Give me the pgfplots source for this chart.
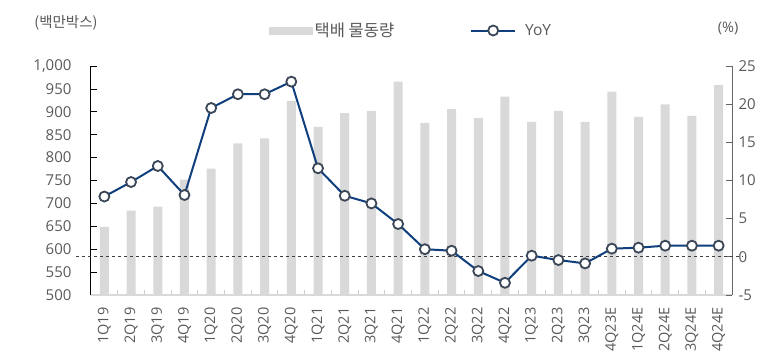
\documentclass[border=0pt]{standalone}
\usepackage{pgfplots}
\pgfplotsset{compat=1.18}
\usepackage{fontspec}
\setmainfont{Open Sans}
\newfontfamily\kr{Noto Sans CJK KR}
\definecolor{barc}{HTML}{D9D9D9}
\definecolor{linec}{HTML}{0F3F7C}
\definecolor{mk}{HTML}{3B4656}
\definecolor{txt}{HTML}{595959}
\begin{document}
\begin{tikzpicture}
\path[use as bounding box] (-91pt,-65pt) rectangle (693pt,295pt);
\begin{axis}[at={(0,0)}, anchor=south west, scale only axis, width=641pt, height=229pt,
  xmin=-0.5, xmax=23.5, ymin=500, ymax=1000,
  axis x line*=bottom, axis y line*=left,
  xtick={0,...,23},
  xticklabels={1Q19,2Q19,3Q19,4Q19,1Q20,2Q20,3Q20,4Q20,1Q21,2Q21,3Q21,4Q21,1Q22,2Q22,3Q22,4Q22,1Q23,2Q23,3Q23,4Q23E,1Q24E,2Q24E,3Q24E,4Q24E},
  x tick label style={yshift=-9pt, rotate=90, anchor=east, font=\fontsize{14.5}{16}\selectfont, text=txt},
  major x tick style={draw=none},
  minor xtick={-0.5,0.5,...,23.5}, minor x tick style={black!20, line width=1pt}, minor tick length=5pt,
  ytick={500,550,...,1000},
  y tick label style={xshift=-16pt, font=\fontsize{15}{16}\selectfont, text=txt},
  /pgf/number format/assume math mode=true,
  /pgf/number format/.cd, 1000 sep={,}, /pgfplots/.cd,
  major tick length=6pt, tick align=inside,
  y tick style={black, line width=0.8pt},
  x axis line style={black!15, line width=1.6pt},
  y axis line style={black, line width=1pt},
  clip=false,
]
\addplot[ybar, bar width=9pt, fill=barc, draw=none] coordinates {
(0,649) (1,684) (2,693) (3,752) (4,776) (5,831) (6,842) (7,924) (8,867) (9,897) (10,902) (11,966)
(12,876) (13,906) (14,887) (15,933) (16,878) (17,902) (18,878) (19,944) (20,889) (21,916) (22,891) (23,958)};
\node[font=\kr\fontsize{14.5}{16}\selectfont, text=txt] at (rel axis cs:-0.039,1.19) {(백만박스)};
\end{axis}
\begin{axis}[at={(0,0)}, anchor=south west, scale only axis, width=641pt, height=229pt,
  xmin=-0.5, xmax=23.5, ymin=-5, ymax=25,
  axis x line=none, axis y line*=right,
  ytick={-5,0,...,25},
  y tick label style={xshift=3pt, font=\fontsize{15}{16}\selectfont, text=txt},
  /pgf/number format/assume math mode=true,
  major tick length=6pt, tick align=inside,
  y tick style={black!60, line width=0.8pt},
  y axis line style={black!60, line width=1pt},
  clip=false,
  legend columns=2,
  legend style={draw=none, fill=none, inner sep=0pt, at={(0.2777,1.155)}, anchor=west,
    font=\fontsize{15.5}{17}\selectfont, text=txt,
    /tikz/every odd column/.append style={column sep=0pt},
    /tikz/every even column/.append style={column sep=74pt}},
]
\draw[dashed, black!75, line width=0.7pt] (axis cs:-1.06,0) -- (axis cs:23.9,0);
\addlegendimage{legend image code/.code={\fill[barc] (0pt,-3.5pt) rectangle (43pt,3.5pt);}}
\addlegendentry{\kr\fontsize{16.5}{18}\selectfont 택배 물동량}
\addplot[linec, line width=2pt, mark=*, mark size=5pt, mark options={fill=white, draw=mk, line width=1.8pt},
  legend image code/.code={\draw[linec, line width=2pt] (0pt,0pt) -- (44pt,0pt); \draw[mk, fill=white, line width=1.8pt] (22pt,0pt) circle (5pt); \path (51pt,0pt);}]
coordinates {
(0,7.9) (1,9.8) (2,11.9) (3,8.1) (4,19.5) (5,21.3) (6,21.3) (7,22.95) (8,11.6) (9,8.0) (10,7.0) (11,4.3)
(12,1.0) (13,0.8) (14,-1.86) (15,-3.4) (16,0.15) (17,-0.42) (18,-0.86) (19,1.07) (20,1.2) (21,1.46) (22,1.46) (23,1.46)};
\addlegendentry{YoY}
\node[font=\fontsize{14.5}{16}\selectfont, text=txt] at (rel axis cs:0.994,1.166) {(\%)};
\end{axis}
\end{tikzpicture}
\end{document}
